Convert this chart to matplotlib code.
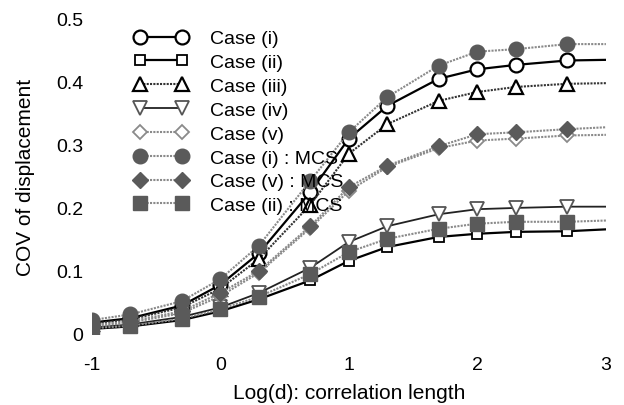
import matplotlib
matplotlib.use("Agg")
import matplotlib.pyplot as plt
from matplotlib.lines import Line2D
from matplotlib.legend_handler import HandlerLine2D

plt.rcParams['font.family'] = ['Liberation Sans', 'DejaVu Sans']
plt.rcParams['axes.unicode_minus'] = False

# log10 of correlation length
log_d = [-1, -0.7, -0.3, 0, 0.3, 0.7, 1, 1.3, 1.7, 2, 2.3, 2.7, 3]

case_i = [0.018, 0.025, 0.045, 0.078, 0.128, 0.225, 0.31, 0.362, 0.405, 0.42, 0.427, 0.434, 0.435]
case_ii = [0.008, 0.012, 0.022, 0.036, 0.055, 0.085, 0.116, 0.138, 0.154, 0.159, 0.162, 0.163, 0.166]
case_iii = [0.016, 0.023, 0.042, 0.072, 0.119, 0.205, 0.286, 0.333, 0.37, 0.384, 0.392, 0.397, 0.398]
case_iv = [0.010, 0.015, 0.027, 0.042, 0.065, 0.105, 0.146, 0.171, 0.19, 0.198, 0.2, 0.202, 0.202]
case_v = [0.012, 0.018, 0.033, 0.06, 0.097, 0.168, 0.227, 0.265, 0.295, 0.307, 0.31, 0.315, 0.316]
case_i_mcs = [0.022, 0.031, 0.052, 0.087, 0.14, 0.243, 0.32, 0.376, 0.426, 0.448, 0.452, 0.46, 0.46]
case_v_mcs = [0.014, 0.020, 0.036, 0.065, 0.1, 0.171, 0.233, 0.267, 0.298, 0.317, 0.32, 0.325, 0.328]
case_ii_mcs = [0.009, 0.013, 0.024, 0.039, 0.059, 0.095, 0.13, 0.151, 0.167, 0.175, 0.178, 0.178, 0.18]

fig = plt.figure(figsize=(6.24, 4.06), dpi=100)
ax = fig.add_axes([0.147, 0.175, 0.824, 0.776])

mk = list(range(len(log_d) - 1))  # no marker at the last point
grey = '#8a8a8a'
fill = '#5a5a5a'
dot = (0, (1, 0.6))

ax.plot(log_d, case_i, color='black', lw=1.6, marker='o', ms=10, mfc='white',
        mec='black', mew=1.6, markevery=mk, label='Case (i)')
ax.plot(log_d, case_ii, color='black', lw=1.6, marker='s', ms=7.5, mfc='white',
        mec='black', mew=1.3, markevery=mk, label='Case (ii)')
ax.plot(log_d, case_iii, color='#333333', lw=1.5, ls=dot, marker='^', ms=10,
        mfc='white', mec='black', mew=1.6, markevery=mk, label='Case (iii)')
ax.plot(log_d, case_iv, color='#222222', lw=1.3, marker='v', ms=10, mfc='white',
        mec='#555555', mew=1.3, markevery=mk, label='Case (iv)')
ax.plot(log_d, case_v, color=grey, lw=1.5, ls=dot, marker='D', ms=7.5,
        mfc='white', mec=grey, mew=1.3, markevery=mk, label='Case (v)')
ax.plot(log_d, case_i_mcs, color=grey, lw=1.5, ls=dot, marker='o', ms=10.5,
        mfc=fill, mec=fill, markevery=mk, label='Case (i) : MCS')
ax.plot(log_d, case_v_mcs, color=grey, lw=1.5, ls=dot, marker='D', ms=8,
        mfc=fill, mec=fill, markevery=mk, label='Case (v) : MCS')
ax.plot(log_d, case_ii_mcs, color=grey, lw=1.5, ls=dot, marker='s', ms=9.5,
        mfc=fill, mec=fill, markevery=mk, label='Case (ii) : MCS')

ax.set_xlim(-1, 3)
ax.set_ylim(0, 0.5)
ax.set_xticks([-1, 0, 1, 2, 3])
ax.set_yticks([0, 0.1, 0.2, 0.3, 0.4, 0.5])
ax.set_yticklabels(['0', '0.1', '0.2', '0.3', '0.4', '0.5'])
ax.tick_params(length=0, labelsize=14)
ax.tick_params(axis='x', pad=16)
ax.tick_params(axis='y', pad=6)
for s in ax.spines.values():
    s.set_visible(False)

ax.set_xlabel('Log(d): correlation length', fontsize=15, labelpad=7)
ax.set_ylabel('COV of displacement', fontsize=15, labelpad=15)

ax.legend(loc='upper left', bbox_to_anchor=(0.04, 0.99), frameon=False, numpoints=2,
          fontsize=14, handlelength=4.2, labelspacing=0.32, handletextpad=0.4,
          borderaxespad=0, handler_map={Line2D: HandlerLine2D(marker_pad=1.0)})

fig.savefig('out.png', dpi=100)
